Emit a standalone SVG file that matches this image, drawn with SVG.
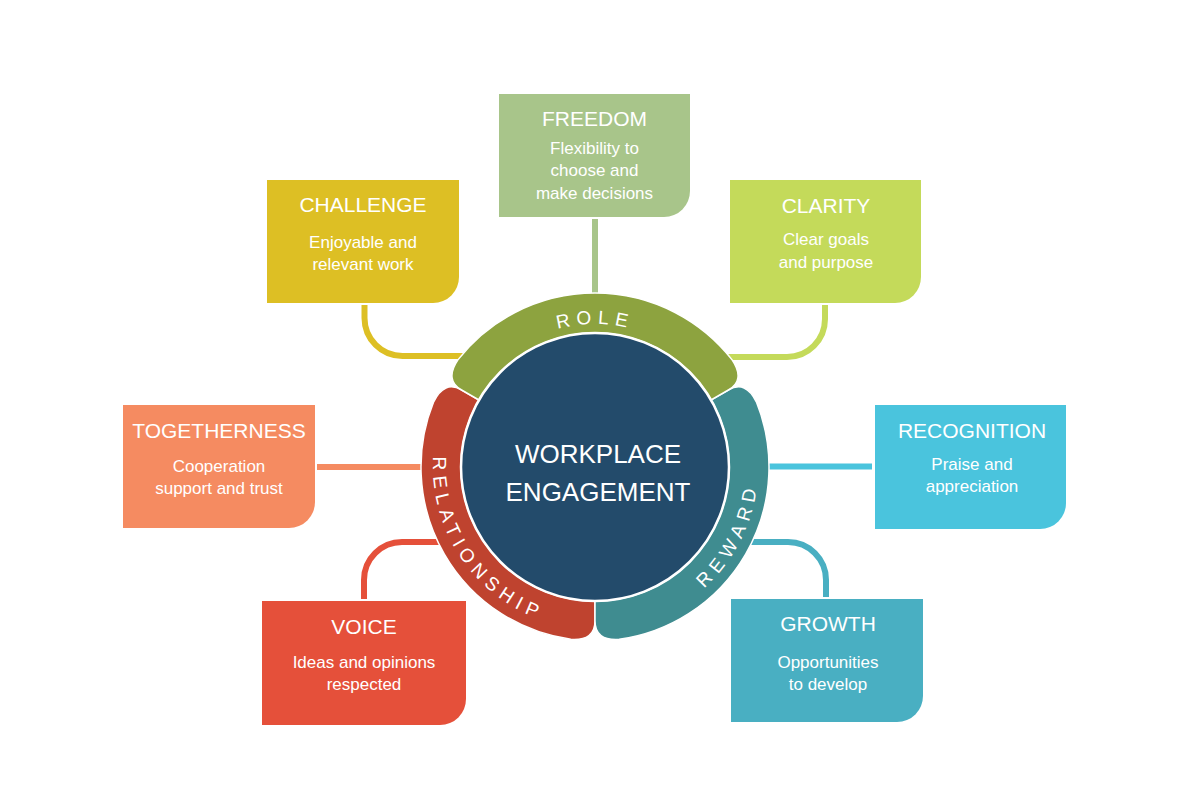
<svg xmlns="http://www.w3.org/2000/svg" width="1188" height="812" viewBox="0 0 1188 812">
<defs>
<style>
.box text{fill:#fff;font-family:"Liberation Sans",Arial,sans-serif;text-anchor:middle}
.t{font-size:21px}
.s{font-size:17px}
.conn path{fill:none;stroke-width:6}
.petal{stroke:#fff;stroke-width:1.5}
.arc{fill:#fff;font-family:"Liberation Sans",Arial,sans-serif;font-size:19px;letter-spacing:6px;text-anchor:middle}
.hubt{fill:#fff;font-family:"Liberation Sans",Arial,sans-serif;font-size:26px;text-anchor:middle}
</style>
<path id="roleArc" d="M503.08,357.46 A143 143 0 0 1 686.92,357.46"/>
<path id="relArc" d="M464.77,370.64 A162 162 0 0 0 632.81,624.53"/>
<path id="rewArc" d="M631.67,625.82 A163 163 0 0 0 745.04,403.31"/>
</defs>
<rect width="1188" height="812" fill="#fff"/>
<g id="connectors" class="conn">
<path d="M595,219 V300" stroke="#A8C58A" stroke-width="7"/>
<path d="M364.5,305 V318 A38 38 0 0 0 402.5,356 H470" stroke="#DDBF24"/>
<path d="M825,305 V319 A38 38 0 0 1 787,357 H720" stroke="#C4DA5A"/>
<path d="M317,467 H440" stroke="#F58B61"/>
<path d="M872,466.5 H750" stroke="#4AC4DD"/>
<path d="M364,599 V580 A38 38 0 0 1 402,542 H450" stroke="#E5503A"/>
<path d="M826,597 V580 A38 38 0 0 0 788,542 H740" stroke="#49AFC2"/>
</g>
<g id="hub">
<path class="petal" d="M595,601 L595,621 Q595,641 570.78,639.31 A174 174 0 0 1 433.67,401.82 Q444.32,380 461.63,390 L478.96,400 A134 134 0 0 0 595,601 Z" fill="#BF432F"/>
<path class="petal" d="M711.04,400 L728.37,390 Q745.68,380 756.33,401.82 A174 174 0 0 1 619.22,639.31 Q595,641 595,621 L595,601 A134 134 0 0 0 711.04,400 Z" fill="#3F8C90"/>
<path class="petal" d="M478.96,400 L461.63,390 Q444.32,380 457.89,359.87 A174 174 0 0 1 732.11,359.87 Q745.68,380 728.37,390 L711.04,400 A134 134 0 0 0 478.96,400 Z" fill="#8DA33F"/>
<circle cx="595" cy="467" r="134" fill="#234B6B" stroke="#fff" stroke-width="2.5"/>
<text class="arc"><textPath href="#roleArc" startOffset="50%">ROLE</textPath></text>
<text class="arc"><textPath href="#relArc" startOffset="50%">RELATIONSHIP</textPath></text>
<text class="arc"><textPath href="#rewArc" startOffset="50%">REWARD</textPath></text>
<text class="hubt" x="598" y="463">WORKPLACE</text>
<text class="hubt" x="598" y="501">ENGAGEMENT</text>
</g>
<g id="freedom" class="box">
<path d="M499,94 H690 V191 A26 26 0 0 1 664,217 H499 Z" fill="#A8C58A"/>
<text class="t" x="594.5" y="126">FREEDOM</text>
<text class="s" x="594.5" y="154">Flexibility to</text>
<text class="s" x="594.5" y="176">choose and</text>
<text class="s" x="594.5" y="199">make decisions</text>
</g>
<g id="challenge" class="box">
<path d="M267,180 H459 V277 A26 26 0 0 1 433,303 H267 Z" fill="#DDBF24"/>
<text class="t" x="363" y="212">CHALLENGE</text>
<text class="s" x="363" y="248">Enjoyable and</text>
<text class="s" x="363" y="270">relevant work</text>
</g>
<g id="clarity" class="box">
<path d="M730,180 H921 V277 A26 26 0 0 1 895,303 H730 Z" fill="#C4DA5A"/>
<text class="t" x="826" y="213">CLARITY</text>
<text class="s" x="826" y="245">Clear goals</text>
<text class="s" x="826" y="268">and purpose</text>
</g>
<g id="togetherness" class="box">
<path d="M123,405 H315 V502 A26 26 0 0 1 289,528 H123 Z" fill="#F58B61"/>
<text class="t" x="219" y="438">TOGETHERNESS</text>
<text class="s" x="219" y="472">Cooperation</text>
<text class="s" x="219" y="494">support and trust</text>
</g>
<g id="recognition" class="box">
<path d="M875,405 H1066 V503 A26 26 0 0 1 1040,529 H875 Z" fill="#4AC4DD"/>
<text class="t" x="972" y="438">RECOGNITION</text>
<text class="s" x="972" y="470">Praise and</text>
<text class="s" x="972" y="492">appreciation</text>
</g>
<g id="voice" class="box">
<path d="M262,601 H466 V699 A26 26 0 0 1 440,725 H262 Z" fill="#E5503A"/>
<text class="t" x="364" y="634">VOICE</text>
<text class="s" x="364" y="668">Ideas and opinions</text>
<text class="s" x="364" y="690">respected</text>
</g>
<g id="growth" class="box">
<path d="M731,599 H923 V696 A26 26 0 0 1 897,722 H731 Z" fill="#49AFC2"/>
<text class="t" x="828" y="631">GROWTH</text>
<text class="s" x="828" y="668">Opportunities</text>
<text class="s" x="828" y="690">to develop</text>
</g>
</svg>
